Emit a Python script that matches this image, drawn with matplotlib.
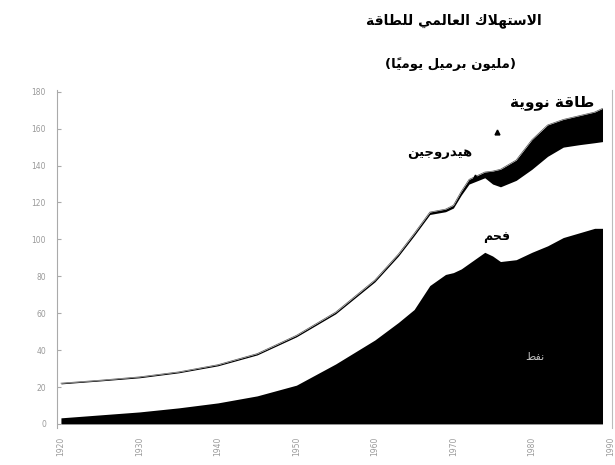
import matplotlib
matplotlib.use('Agg')
import matplotlib.pyplot as plt
import numpy as np

# world energy consumption, million barrels per day
years = [1920, 1925, 1930, 1935, 1940, 1945, 1950, 1955, 1960, 1963, 1965,
         1967, 1969, 1970, 1971, 1972, 1974, 1975, 1976, 1978, 1980, 1982,
         1984, 1986, 1988, 1989]
oil = [3.3, 4.9, 6.5, 8.7, 11.4, 15.2, 21, 32.5, 45.5, 55, 62,
       75, 81, 82, 84, 87, 93, 91, 88, 89, 93, 96.5,
       101, 103.5, 106, 106]
coal = [18.4, 18.4, 18.5, 19, 20.1, 22.2, 26.2, 27.2, 31.5, 36, 40,
        38.5, 34, 35, 40, 43, 40.4, 39, 40.5, 43, 45, 48.5,
        49, 47.8, 46.4, 47]
hydro = [0.4, 0.4, 0.5, 0.5, 0.6, 0.7, 0.8, 0.9, 1.0, 1.1, 1.2,
         1.3, 1.4, 1.5, 1.6, 1.7, 1.8, 1.9, 2.0, 2.2, 2.5, 2.8,
         3.1, 3.4, 3.7, 4.0]
nuclear = [0, 0, 0, 0, 0, 0, 0, 0, 0, 0, 0,
           0, 0, 0, 0.4, 0.8, 1.3, 5.1, 7.5, 8.8, 13.5, 14.2,
           11.9, 12.3, 12.9, 14.0]

y_ticks = [0, 20, 40, 60, 80, 100, 120, 140, 160, 180]
x_ticks = [1920, 1930, 1940, 1950, 1960, 1970, 1980, 1990]

title = 'الاستهلاك العالمي للطاقة'
subtitle = '(مليون برميل يومياً)'
labels = {'nuclear': 'طاقة نووية', 'hydro': 'هيدروجين',
          'coal': 'فحم', 'oil': 'نفط'}

# no shaping library in the sandbox, so join the letters by hand
FORMS = {
    'ا': (0xFE8D, 2), 'ب': (0xFE8F, 4), 'ة': (0xFE93, 2), 'ت': (0xFE95, 4),
    'ج': (0xFE9D, 4), 'ح': (0xFEA1, 4), 'د': (0xFEA9, 2), 'ر': (0xFEAD, 2),
    'س': (0xFEB1, 4), 'ط': (0xFEC1, 4), 'ع': (0xFEC9, 4), 'ف': (0xFED1, 4),
    'ق': (0xFED5, 4), 'ك': (0xFED9, 4), 'ل': (0xFEDD, 4), 'م': (0xFEE1, 4),
    'ن': (0xFEE5, 4), 'ه': (0xFEE9, 4), 'و': (0xFEED, 2), 'ي': (0xFEF1, 4),
}
MARKS = '\u064b\u064c\u064d\u064e\u064f\u0650\u0651\u0652'
MIRROR = {'(': ')', ')': '('}


def ar(text):
    chars = list(text)
    n = len(chars)

    def step(j, d):
        j += d
        while 0 <= j < n and chars[j] in MARKS:
            j += d
        return j

    clusters = []
    i = 0
    while i < n:
        c = chars[i]
        if c in MARKS:
            clusters[-1] += c
            i += 1
            continue
        if c not in FORMS:
            clusters.append(MIRROR.get(c, c))
            i += 1
            continue
        p = step(i, -1)
        joins_prev = 0 <= p < n and chars[p] in FORMS and FORMS[chars[p]][1] == 4
        nx = step(i, 1)
        if c == 'ل' and nx < n and chars[nx] == 'ا':
            clusters.append(chr(0xFEFB + (1 if joins_prev else 0)))
            i = nx + 1
            continue
        base, k = FORMS[c]
        joins_next = k == 4 and nx < n and chars[nx] in FORMS
        if joins_prev and joins_next:
            g = base + 3
        elif joins_prev:
            g = base + 1
        elif joins_next:
            g = base + 2
        else:
            g = base
        clusters.append(chr(g))
        i += 1
    return ''.join(reversed(clusters))


plt.rcParams['font.family'] = ['DejaVu Sans']

fig = plt.figure(figsize=(6.15, 4.65), dpi=100)
ax = fig.add_axes([0.0927, 0.0796, 0.9023, 0.727])

oil_top = np.array(oil)
coal_top = oil_top + np.array(coal)
total = coal_top + np.array(hydro) + np.array(nuclear)

# oil black, coal left white, hydro + nuclear as one black band
ax.fill_between(years, 0, oil_top, color='black', lw=0)
ax.fill_between(years, coal_top, total, color='black', lw=0)
ax.plot(years, total, color='#555555', lw=0.5)

ax.set_xlim(1919.5, 1990.2)
ax.set_ylim(-2.2, 181)
ax.set_yticks(y_ticks)
ax.set_yticklabels([str(v) for v in y_ticks], fontsize=5.5, color='#9a9a9a')
ax.set_xticks(x_ticks)
ax.set_xticklabels([str(v) for v in x_ticks], fontsize=5.5, color='#9a9a9a',
                   rotation=90)
ax.tick_params(axis='y', direction='in', length=3, color='#aaaaaa', pad=8)
ax.tick_params(axis='x', length=0, pad=6)
for side in ['top', 'bottom']:
    ax.spines[side].set_visible(False)
ax.spines['left'].set_color('#aaaaaa')
ax.spines['left'].set_linewidth(0.8)
ax.spines['right'].set_color('#bbbbbb')
ax.spines['right'].set_linewidth(0.8)

fig.text(0.738, 0.955, ar(title), ha='center', va='center', fontsize=10,
         fontweight='bold')
fig.text(0.733, 0.862, ar(subtitle), ha='center', va='center', fontsize=9.5,
         fontweight='bold')

ax.text(1982.6, 174, ar(labels['nuclear']), ha='center', va='center',
        fontsize=11, fontweight='bold')
ax.plot([1975.5], [158], marker='^', color='black', markersize=3.5)
ax.text(1968.3, 147, ar(labels['hydro']), ha='center', va='center',
        fontsize=9.5, fontweight='bold')
ax.plot([1972.8], [134], marker='^', color='black', markersize=3.5)
ax.text(1975.5, 101.5, ar(labels['coal']), ha='center', va='center',
        fontsize=9, fontweight='bold')
ax.text(1980.4, 36, ar(labels['oil']), ha='center', va='center',
        fontsize=8, color='#bbbbbb')

fig.savefig('out.png', dpi=100)
